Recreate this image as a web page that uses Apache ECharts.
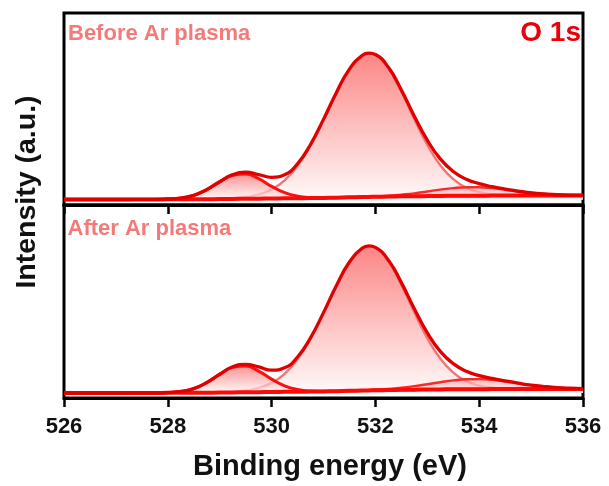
<!DOCTYPE html>
<html><head><meta charset="utf-8">
<script src="https://cdn.jsdelivr.net/npm/echarts@6/dist/echarts.min.js"></script>
<style>html,body{margin:0;padding:0;background:#fff}#c{width:609px;height:486px}</style>
</head><body><div id="c"></div>
<script>
// Binding energy grid (eV)
const energies = [526,526.25,526.5,526.75,527,527.25,527.5,527.75,
  528,528.25,528.5,528.75,529,529.25,529.5,529.75,
  530,530.25,530.5,530.75,531,531.25,531.5,531.75,531.875,
  532,532.25,532.5,532.75,533,533.25,533.5,533.75,
  534,534.25,534.5,534.75,535,535.25,535.5,535.75,536];
const xTickLabels = [526,528,530,532,534,536];
const panelLabels = ['Before Ar plasma','After Ar plasma'];
const regionLabel = 'O 1s';
const xTitle = 'Binding energy (eV)';
const yTitle = 'Intensity (a.u.)';

// Before Ar plasma
const bgTop = [0,0,0,0,0,0,0.05,0.05, 0.1,0.1,0.15,0.2,0.3,0.4,0.5,0.6, 0.7,0.8,0.9,1.0,1.1,1.3,1.5,1.7,1.8, 1.9,2.05,2.2,2.3,2.4,2.5,2.55,2.6, 2.65,2.7,2.72,2.75,2.77,2.8,2.8,2.8, 2.8];
const latticeTop = [0,0,0,0,0,0,0.05,0.05, 0.3,1.0,2.9,6.85,12.3,16.9,17.8,14.5, 9.15,4.8,2.3,1.4,1.2,1.3,1.5,1.7,1.8, 1.9,2.05,2.2,2.3,2.4,2.5,2.55,2.6, 2.65,2.7,2.72,2.75,2.77,2.8,2.8,2.8, 2.8];
const vacancyTop = [0,0,0,0,0,0,0.05,0.05, 0.1,0.1,0.15,0.2,0.4,0.8,1.7,3.5, 7.0,13.3,23.5,37.9,55.7,74.6,90.8,100.4,101.8, 100.7,91.45,75.1,56.0,38.1,23.9,14.15,8.2, 5.15,3.7,3.12,2.85,2.77,2.8,2.8,2.8, 2.8];
const adsorbedTop = [0,0,0,0,0,0,0.05,0.05, 0.1,0.1,0.15,0.2,0.3,0.4,0.5,0.6, 0.7,0.8,0.9,1.0,1.1,1.3,1.5,1.8,1.95, 2.2,2.65,3.4,4.3,5.6,6.9,7.95,8.5, 8.55,7.9,6.82,5.65,4.67,3.9,3.3,3.0, 2.9];
const envTop = [0,0,0,0,0,0,0.05,0.05, 0.3,1.0,2.9,6.85,12.4,17.3,19.0,17.4, 15.45,17.3,24.9,38.3,55.8,74.6,90.8,100.5,101.95, 101.0,92.05,76.3,58.0,41.3,28.3,19.55,14.1, 11.05,8.9,7.22,5.75,4.67,3.9,3.3,3.0, 2.9];

// After Ar plasma
const bgBot = [0,0,0,0,0,0,0.05,0.05, 0.1,0.1,0.15,0.2,0.3,0.4,0.5,0.6, 0.7,0.8,0.9,1.0,1.1,1.3,1.5,1.7,1.8, 1.9,2.05,2.2,2.3,2.4,2.5,2.55,2.6, 2.65,2.7,2.72,2.75,2.77,2.8,2.8,2.8, 2.8];
const latticeBot = [0,0,0,0,0,0,0.05,0.05, 0.3,1.05,3.05,7.2,12.9,17.8,18.7,15.2, 9.6,5.0,2.4,1.4,1.2,1.3,1.5,1.7,1.8, 1.9,2.05,2.2,2.3,2.4,2.5,2.55,2.6, 2.65,2.7,2.72,2.75,2.77,2.8,2.8,2.8, 2.8];
const vacancyBot = [0,0,0,0,0,0,0.05,0.05, 0.1,0.1,0.15,0.2,0.4,0.8,1.7,3.5, 7.0,13.3,23.5,37.9,55.7,74.6,90.8,100.4,101.8, 100.7,91.45,75.1,56.0,38.1,23.9,14.15,8.2, 5.15,3.7,3.12,2.85,2.77,2.8,2.8,2.8, 2.8];
const adsorbedBot = [0,0,0,0,0,0,0.05,0.05, 0.1,0.1,0.15,0.2,0.3,0.4,0.5,0.6, 0.7,0.8,0.9,1.0,1.1,1.3,1.6,1.9,2.1, 2.3,2.85,3.7,4.8,6.1,7.5,8.75,9.5, 9.6,9.1,8.02,6.75,5.47,4.5,3.75,3.3, 3.0];
const envBot = [0,0,0,0,0,0,0.05,0.05, 0.3,1.05,3.05,7.2,13.0,18.2,19.9,18.1, 15.9,17.5,25.0,38.3,55.8,74.6,90.9,100.6,102.1, 101.1,92.25,76.6,58.5,41.8,28.9,20.35,15.1, 12.1,10.1,8.42,6.85,5.47,4.5,3.75,3.3, 3.0];

const FONT = '"Liberation Sans", Arial, Helvetica, sans-serif';
const chart = echarts.init(document.getElementById('c'), null, {renderer: 'canvas'});
const pairs = arr => arr.map((v, i) => [energies[i], v]);
const grad = (a, b) => new echarts.graphic.LinearGradient(0, 0, 0, 1, [{offset: 0, color: a}, {offset: 1, color: b}]);

function panelSeries(idx, bg, lat, vac, ads, env) {
  const base = {type: 'line', xAxisIndex: idx, yAxisIndex: idx, smooth: 0.5, showSymbol: false, symbol: 'none', silent: true};
  return [
    Object.assign({}, base, {name: 'vac' + idx, data: pairs(vac), z: 2,
      lineStyle: {color: '#f27474', width: 2.4}, areaStyle: {color: grad('#fb5252', '#fff6f6')}}),
    Object.assign({}, base, {name: 'ads' + idx, data: pairs(ads), z: 3,
      lineStyle: {color: '#f52a2a', width: 2.4}, areaStyle: {color: grad('#fb9a9a', '#fff6f6')}}),
    Object.assign({}, base, {name: 'lat' + idx, data: pairs(lat), z: 3,
      lineStyle: {color: '#fa1010', width: 3}, areaStyle: {color: grad('#f86464', '#fff6f6')}}),
    Object.assign({}, base, {name: 'bg' + idx, data: pairs(bg), z: 4,
      lineStyle: {color: '#ff0808', width: 4}}),
    Object.assign({}, base, {name: 'env' + idx, data: pairs(env), z: 5,
      lineStyle: {color: '#e00000', width: 3.3}})
  ];
}

const xAxisBase = {
  type: 'value', min: xTickLabels[0], max: xTickLabels[xTickLabels.length - 1], interval: 2,
  splitLine: {show: false},
  axisLine: {show: true, onZero: false, lineStyle: {color: '#000', width: 3}},
  axisTick: {show: true, inside: false, length: 9, lineStyle: {color: '#000', width: 2.5}}
};

chart.setOption({
  animation: false,
  backgroundColor: '#fff',
  grid: [
    {left: 64, width: 519, top: 13, height: 192, show: true, borderColor: '#000', borderWidth: 3, backgroundColor: 'transparent'},
    {left: 64, width: 519, top: 205, height: 193, show: true, borderColor: '#000', borderWidth: 3, backgroundColor: 'transparent'}
  ],
  xAxis: [
    Object.assign({}, xAxisBase, {gridIndex: 0, axisLabel: {show: false}}),
    Object.assign({}, xAxisBase, {gridIndex: 1, axisLabel: {show: true, margin: 29, verticalAlign: 'middle',
      color: '#111', fontSize: 22, fontWeight: 'bold', fontFamily: FONT,
      formatter: v => xTickLabels.indexOf(v) >= 0 ? String(v) : ''}})
  ],
  yAxis: [
    {type: 'value', gridIndex: 0, min: -3.83, max: 129.9, show: false, splitLine: {show: false}},
    {type: 'value', gridIndex: 1, min: -3.47, max: 130.5, show: false, splitLine: {show: false}}
  ],
  series: [].concat(
    panelSeries(0, bgTop, latticeTop, vacancyTop, adsorbedTop, envTop),
    panelSeries(1, bgBot, latticeBot, vacancyBot, adsorbedBot, envBot)
  ),
  graphic: [
    {type: 'text', x: 68, y: 33.5, z: 10, style: {text: panelLabels[0], fill: '#f47a7a', fontSize: 22, fontWeight: 'bold', fontFamily: FONT, align: 'left', verticalAlign: 'middle'}},
    {type: 'text', x: 67.5, y: 228.5, z: 10, style: {text: panelLabels[1], fill: '#f47a7a', fontSize: 22, fontWeight: 'bold', fontFamily: FONT, align: 'left', verticalAlign: 'middle'}},
    {type: 'text', x: 581, y: 33, z: 10, style: {text: regionLabel, fill: '#e8000b', fontSize: 28, fontWeight: 'bold', fontFamily: FONT, align: 'right', verticalAlign: 'middle'}},
    {type: 'text', x: 330, y: 467, z: 10, style: {text: xTitle, fill: '#111', fontSize: 29, fontWeight: 'bold', fontFamily: FONT, align: 'center', verticalAlign: 'middle'}},
    {type: 'text', x: 27.5, y: 192, rotation: Math.PI / 2, z: 10, style: {text: yTitle, fill: '#111', fontSize: 28.5, fontWeight: 'bold', fontFamily: FONT, align: 'center', verticalAlign: 'middle'}}
  ]
});
</script>
</body></html>
